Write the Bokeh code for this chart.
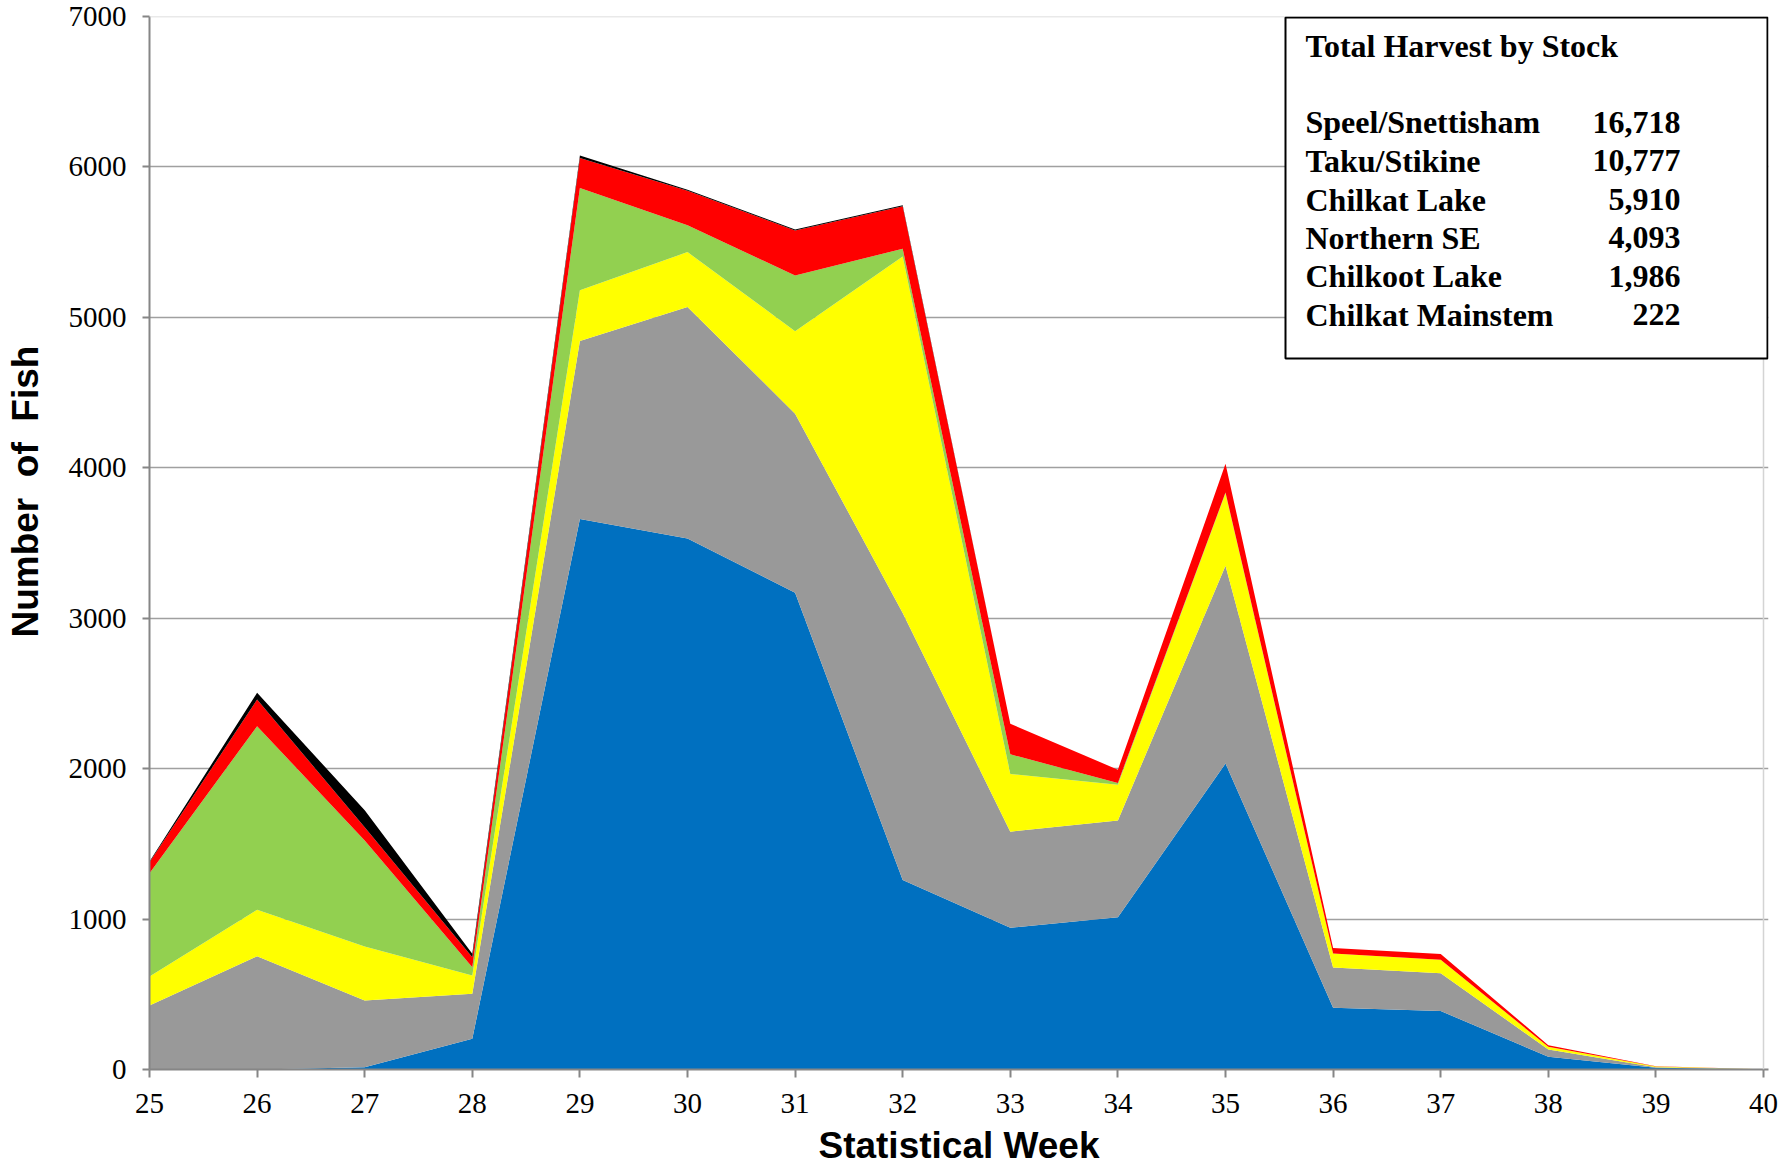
from bokeh.plotting import figure
from bokeh.models import ColumnDataSource, FixedTicker, BoxAnnotation, Label, Span
from bokeh.embed import file_html
from bokeh.resources import INLINE

# ---- data ----
weeks = [25, 26, 27, 28, 29, 30, 31, 32, 33, 34, 35, 36, 37, 38, 39, 40]
speel_snettisham = [0, 0, 15, 204, 3660, 3530, 3170, 1259, 942, 1012, 2035, 411, 389, 84, 11, 2]
taku_stikine = [425, 753, 444, 299, 1183, 1539, 1190, 1776, 639, 644, 1314, 267, 251, 49, 4, 0]
chilkat_lake = [193, 309, 359, 122, 337, 365, 548, 2370, 384, 237, 481, 93, 89, 18, 5, 0]
northern_se = [687, 1220, 705, 55, 680, 178, 370, 51, 130, 12, 5, 0, 0, 0, 0, 0]
chilkoot_lake = [73, 177, 88, 67, 200, 230, 300, 282, 203, 88, 191, 36, 38, 11, 2, 0]
chilkat_mainstem = [5, 45, 113, 22, 16, 7, 6, 8, 0, 0, 0, 0, 0, 0, 0, 0]

stock_names = ["Speel/Snettisham", "Taku/Stikine", "Chilkat Lake", "Northern SE",
               "Chilkoot Lake", "Chilkat Mainstem"]
stock_totals = [16718, 10777, 5910, 4093, 1986, 222]
stock_colors = ["#0070C0", "#999999", "#FFFF00", "#92D050", "#FF0000", "#000000"]
y_ticks = [0, 1000, 2000, 3000, 4000, 5000, 6000, 7000]

source = ColumnDataSource(dict(
    week=weeks,
    s0=speel_snettisham, s1=taku_stikine, s2=chilkat_lake,
    s3=northern_se, s4=chilkoot_lake, s5=chilkat_mainstem,
))

# frame spans page x 149..1768 (week 40 sits at 1763, the legend box pokes 5 px past it)
x_end = 40 + 5 * 15 / 1614
p = figure(width=1787, height=1168, x_range=(25, x_end), y_range=(0, 7000),
           output_backend="svg", toolbar_location=None,
           min_border_left=149, min_border_right=19, min_border_top=16, min_border_bottom=99)

p.varea_stack(stackers=["s0", "s1", "s2", "s3", "s4", "s5"], x="week",
              color=stock_colors, source=source)

# ---- axes ----
AX = "#868686"
p.xaxis.ticker = FixedTicker(ticks=weeks)
p.yaxis.ticker = FixedTicker(ticks=y_ticks)
for ax in (p.xaxis[0], p.yaxis[0]):
    ax.axis_line_color = AX
    ax.axis_line_width = 2
    ax.major_tick_line_color = AX
    ax.major_tick_line_width = 2
    ax.major_tick_in = 0
    ax.minor_tick_line_color = None
    ax.major_label_text_font = "Liberation Serif"
    ax.major_label_text_font_size = "29px"
    ax.major_label_text_color = "black"
    ax.axis_label_text_font = "Liberation Sans"
    ax.axis_label_text_font_style = "bold"
    ax.axis_label_text_font_size = "37px"
    ax.axis_label_text_color = "black"

NB = "\u00a0"
p.yaxis.major_tick_out = 7
p.yaxis.major_label_standoff = 16
p.yaxis.axis_label = NB * 10 + "Number" + NB * 2 + "of" + NB * 2 + "Fish"
p.yaxis.axis_label_standoff = 20

p.xaxis.major_tick_out = 8
p.xaxis.major_label_standoff = 16
p.xaxis.axis_label = "Statistical Week"
p.xaxis.axis_label_standoff = 9

p.xgrid.grid_line_color = None
p.ygrid.ticker = FixedTicker(ticks=y_ticks[1:-1])
p.ygrid.grid_line_color = "#a0a0a0"
p.ygrid.grid_line_width = 1.6
p.outline_line_color = None
p.add_layout(Span(location=7000, dimension="width", line_color="#d4d4d4", line_width=1.5))
p.add_layout(Span(location=40, dimension="height", line_color="#d4d4d4", line_width=1.5))
p.background_fill_color = "white"
p.border_fill_color = "white"

# ---- legend positions given in page pixels, converted to data ----
def dx(px):
    return 25 + (px - 149) * 15 / (1763 - 149)

def dy(py):
    return (1069 - py) * 7000 / (1069 - 16)

p.add_layout(BoxAnnotation(left=dx(1285), right=dx(1767), top=dy(17), bottom=dy(358),
                           fill_color="white", fill_alpha=1.0,
                           line_color="black", line_width=2, line_alpha=1.0))

p.add_layout(Label(x=dx(1305), y=dy(45), text="Total Harvest by Stock",
                   text_font="Liberation Serif", text_font_style="bold", text_color="black",
                   text_font_size="32px", text_baseline="alphabetic", text_align="left"))

row_base = [121.7, 160.3, 199, 237.3, 275.7, 314]
for name, total, yb in zip(stock_names, stock_totals, row_base):
    p.add_layout(Label(x=dx(1305), y=dy(yb), text=name,
                       text_font="Liberation Serif", text_font_style="bold", text_color="black",
                       text_font_size="32px", text_baseline="alphabetic", text_align="left"))
    p.add_layout(Label(x=dx(1680), y=dy(yb), text=f"{total:,}",
                       text_font="Liberation Serif", text_font_style="bold", text_color="black",
                       text_font_size="32px", text_baseline="alphabetic", text_align="right"))

open("out.html", "w").write(file_html(p, INLINE))
